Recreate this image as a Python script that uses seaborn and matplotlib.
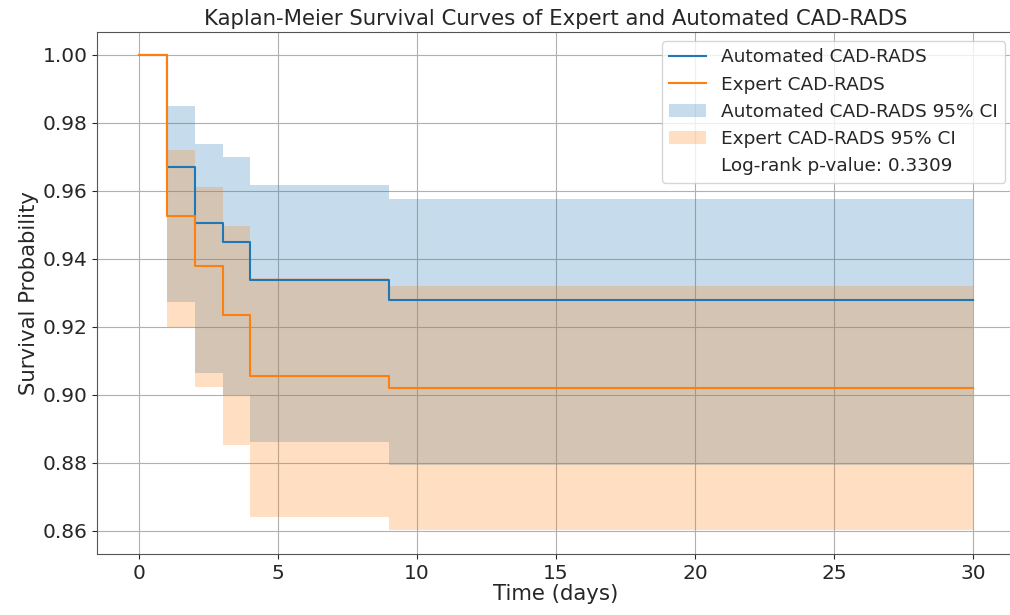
import numpy as np
import pandas as pd
import seaborn as sns
import matplotlib
matplotlib.use("Agg")
import matplotlib.pyplot as plt
from matplotlib.lines import Line2D
from matplotlib.patches import Patch

# event times (days) and Kaplan-Meier estimates
times = [0, 1, 2, 3, 4, 9, 30]

auto_surv = [1.0, 0.967, 0.9505, 0.945, 0.9338, 0.928, 0.928]
auto_upper = [1.0, 0.985, 0.9738, 0.970, 0.9618, 0.9576, 0.9576]
auto_lower = [1.0, 0.9274, 0.9065, 0.900, 0.886, 0.8794, 0.8794]

expert_surv = [1.0, 0.9527, 0.938, 0.9235, 0.9056, 0.902, 0.902]
expert_upper = [1.0, 0.972, 0.9613, 0.9497, 0.9344, 0.9319, 0.9319]
expert_lower = [1.0, 0.92, 0.9024, 0.8853, 0.8642, 0.8603, 0.8603]

p_value = 0.3309

plt.rcParams['text.color'] = '#262626'
plt.rcParams['axes.labelcolor'] = '#262626'
plt.rcParams['xtick.color'] = '#262626'
plt.rcParams['ytick.color'] = '#262626'
plt.rcParams['axes.edgecolor'] = '#555555'

fig = plt.figure(figsize=(10.1, 6.15), dpi=100)
ax = fig.add_axes([0.0965, 0.0992, 0.908, 0.849])

df_auto = pd.DataFrame({'time': times, 'surv': auto_surv})
df_exp = pd.DataFrame({'time': times, 'surv': expert_surv})

c_auto = '#1f77b4'
c_exp = '#ff7f0e'

sns.lineplot(data=df_auto, x='time', y='surv', drawstyle='steps-post',
             color=c_auto, linewidth=1.5, ax=ax, legend=False)
sns.lineplot(data=df_exp, x='time', y='surv', drawstyle='steps-post',
             color=c_exp, linewidth=1.5, ax=ax, legend=False)
ax.fill_between(times, auto_lower, auto_upper, step='post', color=c_auto,
                alpha=0.25, linewidth=0)
ax.fill_between(times, expert_lower, expert_upper, step='post', color=c_exp,
                alpha=0.25, linewidth=0)

ax.set_xlim(-1.5, 31.5)
ax.set_ylim(0.8532, 1.0068)
ax.set_yticks([0.86, 0.88, 0.90, 0.92, 0.94, 0.96, 0.98, 1.00])
ax.set_yticklabels(['0.86', '0.88', '0.90', '0.92', '0.94', '0.96', '0.98', '1.00'])
ax.set_xticks([0, 5, 10, 15, 20, 25, 30])
ax.tick_params(labelsize=14.5)
ax.grid(True, color='#b0b0b0', linewidth=0.8)
ax.set_axisbelow(True)
ax.spines['right'].set_visible(False)

ax.set_title('Kaplan-Meier Survival Curves of Expert and Automated CAD-RADS',
             fontsize=15.3, pad=5)
ax.set_xlabel('Time (days)', fontsize=15.3, labelpad=1)
ax.set_ylabel('Survival Probability', fontsize=15.3, labelpad=3)

handles = [
    Line2D([], [], color=c_auto, linewidth=1.5),
    Line2D([], [], color=c_exp, linewidth=1.5),
    Patch(facecolor=c_auto, alpha=0.25),
    Patch(facecolor=c_exp, alpha=0.25),
    Line2D([], [], linestyle='none'),
]
labels = ['Automated CAD-RADS', 'Expert CAD-RADS', 'Automated CAD-RADS 95% CI',
          'Expert CAD-RADS 95% CI', f'Log-rank p-value: {p_value:.4f}']
ax.legend(handles, labels, loc='upper right', fontsize=13.3)

fig.savefig('out.png', dpi=100)
